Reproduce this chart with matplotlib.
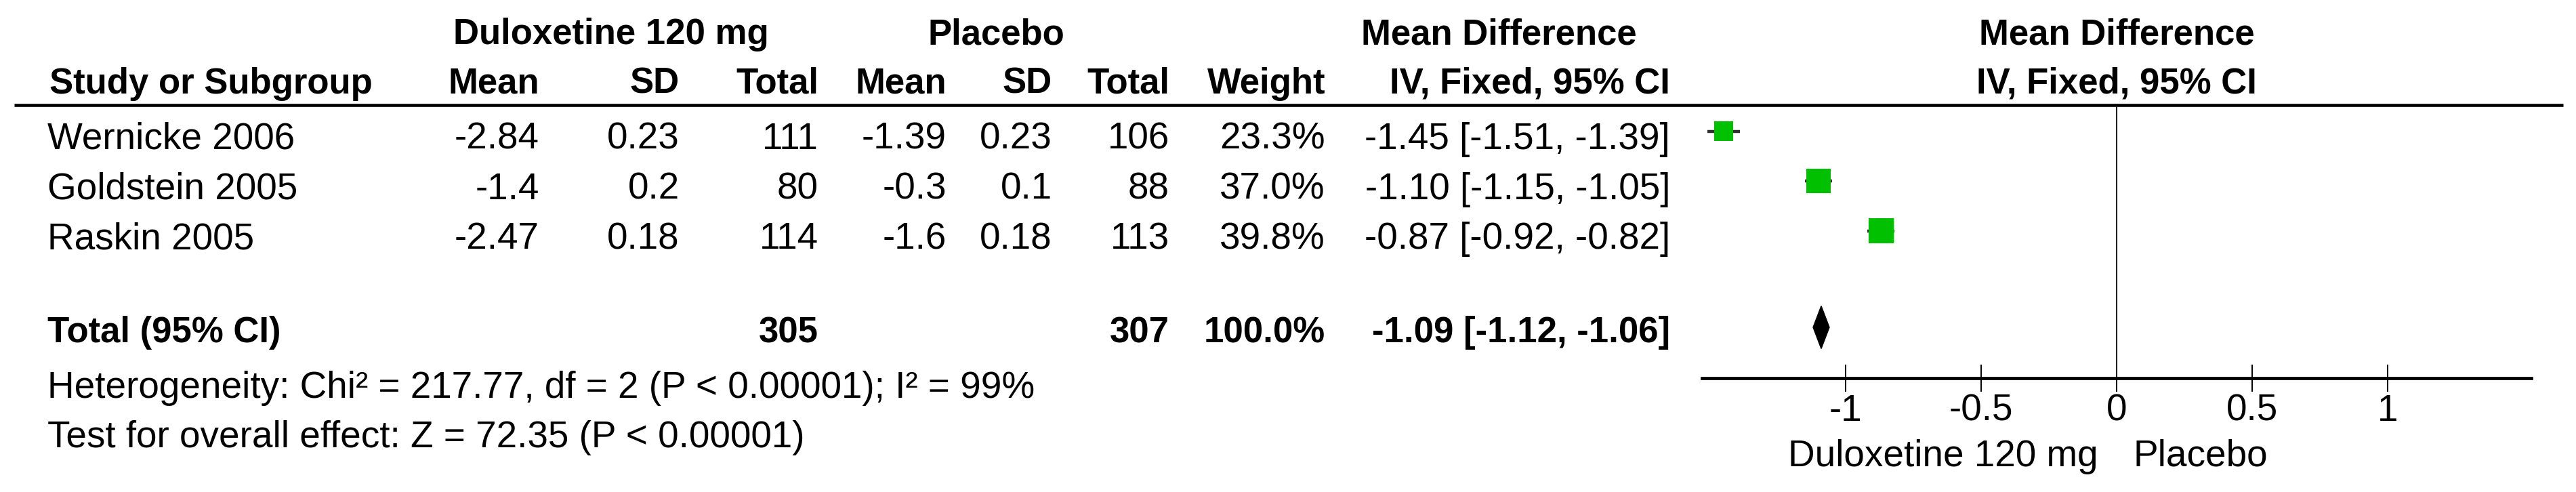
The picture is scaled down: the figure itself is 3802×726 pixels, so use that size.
import matplotlib
matplotlib.use('Agg')
import matplotlib.pyplot as plt
import matplotlib.transforms as mtransforms
from matplotlib.patches import Polygon

plt.rcParams['font.family'] = ['Liberation Sans', 'DejaVu Sans']
plt.rcParams['axes.unicode_minus'] = False

# data
studies = ['Wernicke 2006', 'Goldstein 2005', 'Raskin 2005']
dul_mean = [-2.84, -1.4, -2.47]
dul_sd = [0.23, 0.2, 0.18]
dul_n = [111, 80, 114]
pla_mean = [-1.39, -0.3, -1.6]
pla_sd = [0.23, 0.1, 0.18]
pla_n = [106, 88, 113]
weights = [23.3, 37.0, 39.8]
md = [-1.45, -1.10, -0.87]
ci_lo = [-1.51, -1.15, -0.92]
ci_hi = [-1.39, -1.05, -0.82]

total_dul = 305
total_pla = 307
total_weight = 100.0
pooled = [-1.09, -1.12, -1.06]
heterogeneity = 'Heterogeneity: Chi² = 217.77, df = 2 (P < 0.00001); I² = 99%'
overall = 'Test for overall effect: Z = 72.35 (P < 0.00001)'

ticks = [-1, -0.5, 0, 0.5, 1]
tick_labels = ['-1', '-0.5', '0', '0.5', '1']

W, H = 3802, 726
FS = 39.5
FSB = 38

fig = plt.figure(figsize=(W / 100, H / 100), dpi=100)
tax = fig.add_axes([0, 0, 1, 1])
tax.set_xlim(0, W)
tax.set_ylim(H, 0)
tax.axis('off')

# layout (pixels)
row_base = [220, 293.5, 367]
total_base = 505
col_right = [796, 1003, 1208, 1397, 1553, 1726, 1956, 2465]

# header
tax.text(902, 65, 'Duloxetine 120 mg', ha='center', va='baseline', fontsize=FSB, weight='bold')
tax.text(1470, 65, 'Placebo', ha='center', va='baseline', fontsize=FSB, weight='bold')
tax.text(2212, 65, 'Mean Difference', ha='center', va='baseline', fontsize=FSB, weight='bold')
tax.text(73, 138, 'Study or Subgroup', ha='left', va='baseline', fontsize=FSB, weight='bold')
for x, lab in zip(col_right, ['Mean', 'SD', 'Total', 'Mean', 'SD', 'Total', 'Weight',
                              'IV, Fixed, 95% CI']):
    tax.text(x, 138, lab, ha='right', va='baseline', fontsize=FSB, weight='bold')
tax.plot([21, 3783], [154.5, 154.5], color='black', lw=3.3, solid_capstyle='butt')

# study rows
for i, s in enumerate(studies):
    y = row_base[i]
    tax.text(70, y, s, ha='left', va='baseline', fontsize=FS)
    vals = [f'{dul_mean[i]:g}', f'{dul_sd[i]:g}', f'{dul_n[i]}',
            f'{pla_mean[i]:g}', f'{pla_sd[i]:g}', f'{pla_n[i]}',
            f'{weights[i]:.1f}%',
            f'{md[i]:.2f} [{ci_lo[i]:.2f}, {ci_hi[i]:.2f}]']
    for x, v in zip(col_right, vals):
        tax.text(x, y, v, ha='right', va='baseline', fontsize=FS)

# total row
tax.text(70, total_base, 'Total (95% CI)', ha='left', va='baseline', fontsize=FSB, weight='bold')
tax.text(col_right[2], total_base, str(total_dul), ha='right', va='baseline', fontsize=FSB, weight='bold')
tax.text(col_right[5], total_base, str(total_pla), ha='right', va='baseline', fontsize=FSB, weight='bold')
tax.text(col_right[6], total_base, f'{total_weight:.1f}%', ha='right', va='baseline', fontsize=FSB, weight='bold')
tax.text(col_right[7], total_base, f'{pooled[0]:.2f} [{pooled[1]:.2f}, {pooled[2]:.2f}]',
         ha='right', va='baseline', fontsize=FSB, weight='bold')

tax.text(70, 587, heterogeneity, ha='left', va='baseline', fontsize=FS)
tax.text(70, 660, overall, ha='left', va='baseline', fontsize=FS)

# forest plot
x0, x1 = 2512, 3736
y_top, y_axis = 157, 558
ax = fig.add_axes([x0 / W, 1 - y_axis / H, (x1 - x0) / W, (y_axis - y_top) / H])
ax.set_xlim(-1.53, 1.53)
row_h = 73.5
y_first = 193.5
ax.set_ylim((y_axis - y_first) / row_h, (y_top - y_first) / row_h)
ax.patch.set_alpha(0)
for sp in ['top', 'left', 'right']:
    ax.spines[sp].set_visible(False)
ax.spines['bottom'].set_linewidth(3.4)
ax.set_yticks([])
ax.set_xticks(ticks)
ax.set_xticklabels(tick_labels, fontsize=FS)
ax.tick_params(axis='x', direction='inout', length=29, width=1.4, pad=2)

ax.axvline(0, color='#202020', lw=1.5)

rows = list(range(len(studies)))
for i in rows:
    ax.plot([ci_lo[i], ci_hi[i]], [i, i], color='#303030', lw=3.2, solid_capstyle='butt', zorder=2)
# marker side in points, scaled by sqrt of weight
side = [37 * 0.72 * (w / max(weights)) ** 0.5 for w in weights]
ax.scatter(md, rows, s=[v ** 2 for v in side], marker='s', color='#00c000',
           edgecolors='none', zorder=3)

ty = (483 - y_first) / row_h
hh = 31.5 / row_h
ax.add_patch(Polygon([(pooled[1], ty), (pooled[0], ty - hh), (pooled[2], ty), (pooled[0], ty + hh)],
                     closed=True, color='black', zorder=3))

# plot headers and favours labels
bt = mtransforms.blended_transform_factory(ax.transData, tax.transData)
tax.text(0, 65, 'Mean Difference', transform=bt, ha='center', va='baseline', fontsize=FSB, weight='bold')
tax.text(0, 138, 'IV, Fixed, 95% CI', transform=bt, ha='center', va='baseline', fontsize=FSB, weight='bold')
tax.text(0, 688, 'Duloxetine 120 mg', ha='right', va='baseline', fontsize=FS,
         transform=mtransforms.offset_copy(bt, fig, x=-27, units='dots'))
tax.text(0, 688, 'Placebo', ha='left', va='baseline', fontsize=FS,
         transform=mtransforms.offset_copy(bt, fig, x=24, units='dots'))

fig.savefig('out.png', dpi=100, facecolor='white')
